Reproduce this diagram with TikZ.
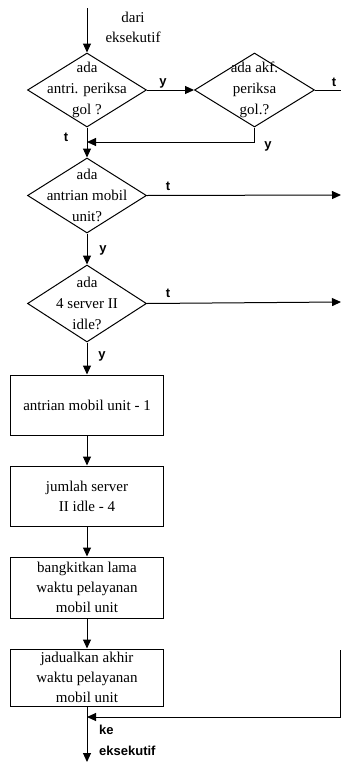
\documentclass[tikz,border=0pt]{standalone}
\usepackage{fontspec}
\setmainfont{Liberation Serif}
\setsansfont{Liberation Sans}
\usetikzlibrary{positioning, arrows.meta, shapes.geometric}

\tikzset{
  flow/.style={draw, line width=1pt, -{Triangle[length=9pt,width=8pt]}},
  plain/.style={draw, line width=1pt},
  decide/.style={draw, diamond, line width=1pt, inner sep=0pt, minimum width=119pt, minimum height=74pt},
  proc/.style={draw, rectangle, line width=1pt, minimum width=153pt, minimum height=60pt, align=center},
  tag/.style={font=\sffamily\bfseries\fontsize{13}{15}\selectfont, inner sep=1pt},
}

\begin{document}
\begin{tikzpicture}[x=1pt, y=1pt, node distance=30pt,
  every node/.append style={font=\fontsize{15}{20}\selectfont},
  every label/.append style={align=center, font=\fontsize{15}{21}\selectfont}]
\useasboundingbox (0,0) rectangle (341,-771);

% decisions
\coordinate (in) at (87,-8);
\node[decide, label=center:{ada\\antri. periksa\\gol ?}] (ant) at (87,-90) {};
\node[decide, minimum width=120pt, right=47pt of ant, label=center:{ada akf.\\periksa\\gol.?}] (akt) {};
\node[decide, minimum height=75pt, below=of ant, label=center:{ada\\antrian mobil\\unit?}] (mob) {};
\node[decide, minimum height=77pt, below=31pt of mob, label=center:{ada\\4 server II\\idle?}] (srv) {};

% processes
\node[proc, below=32pt of srv] (p1) {antrian mobil unit - 1};
\node[proc, below=of p1] (p2) {jumlah server\\II idle - 4};
\node[proc, minimum height=61pt, below=of p2] (p3) {bangkitkan lama\\waktu pelayanan\\mobil unit};
\node[proc, minimum height=54pt, below=of p3] (p4) {jadualkan akhir\\waktu pelayanan\\mobil unit};

% free ends
\coordinate (join) at (87,-142);
\coordinate (akt-dn) at (akt.south |- join);
\coordinate (akt-out) at (341,-90);
\coordinate (mob-out) at (341,-195);
\coordinate (srv-out) at (341,-302);
\coordinate (back-top) at (340,-650);
\coordinate (back) at (340,-717);
\coordinate (merge) at (87,-717);
\coordinate (out) at (87,-762);

% connectors
\draw[flow] (in) -- (ant.north);
\draw[flow] (ant.east) -- (akt.west);
\draw[plain] (akt.east) -- (akt-out);
\draw[plain] (ant.south) -- (join);
\draw[flow] (akt.south) -- (akt-dn) -- (join);
\draw[flow] (join) -- (mob.north);
\draw[flow] (mob.east) -- (mob-out);
\draw[flow] (mob.south) -- (srv.north);
\draw[flow] (srv.east) -- (srv-out);
\draw[flow] (srv.south) -- (p1.north);
\draw[flow] (p1) -- (p2);
\draw[flow] (p2) -- (p3);
\draw[flow] (p3) -- (p4);
\draw[plain] (p4.south) -- (merge);
\draw[flow] (back-top) -- (back) -- (merge);
\draw[flow] (merge) -- (out);

% branch labels
\node[align=center] (dari) at (133,-27) {dari\\eksekutif};
\node[tag] (y1) at (163,-83) {y};
\node[tag] (t1) at (334,-82) {t};
\node[tag] (t2) at (66,-137) {t};
\node[tag] (y2) at (268,-146) {y};
\node[tag] (t3) at (168,-186) {t};
\node[tag] (y3) at (103,-250) {y};
\node[tag] (t4) at (168,-293) {t};
\node[tag] (y4) at (102,-356) {y};
\node[tag, align=left, anchor=north west, font=\sffamily\bfseries\fontsize{13}{21}\selectfont] (ke) at (98,-724) {ke\\eksekutif};
\end{tikzpicture}
\end{document}
